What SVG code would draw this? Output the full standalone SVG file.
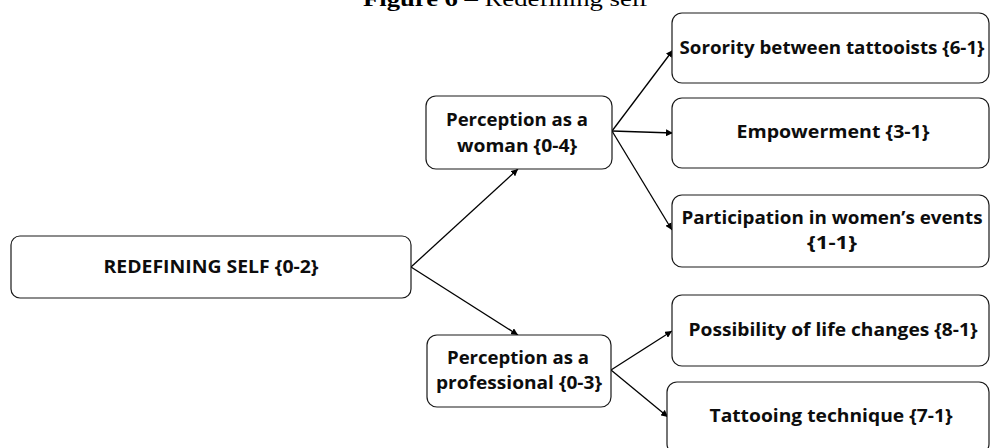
<svg xmlns="http://www.w3.org/2000/svg" width="990" height="448" viewBox="0 0 990 448">
<defs>
<style>
.box{fill:#fff;stroke:#1a1a1a;stroke-width:1.2}
.lbl{font-family:"Open Sans","Liberation Sans",sans-serif;font-weight:bold;font-size:17px;fill:#0d0d0d;text-anchor:middle}
.con{stroke:#000;stroke-width:1.3;fill:none;marker-end:url(#ah)}
.title{font-family:"Liberation Serif","Times New Roman",serif;font-size:20px;fill:#000;text-anchor:middle}
</style>
<marker id="ah" viewBox="0 0 10 10" refX="10" refY="5" markerWidth="7" markerHeight="7" markerUnits="userSpaceOnUse" orient="auto">
<path d="M0,0 L10,5 L0,10 z" fill="#000"/>
</marker>
</defs>
<text class="title" x="505.5" y="6" textLength="285" lengthAdjust="spacingAndGlyphs"><tspan font-weight="bold">Figure 6</tspan> – Redefining self</text>
<g id="connectors">
<line class="con" x1="411" y1="267" x2="518" y2="169"/>
<line class="con" x1="411" y1="267" x2="518" y2="335"/>
<line class="con" x1="612" y1="131" x2="673" y2="50"/>
<line class="con" x1="612" y1="131" x2="673" y2="133"/>
<line class="con" x1="612" y1="131" x2="672" y2="230"/>
<line class="con" x1="611" y1="370" x2="672" y2="331"/>
<line class="con" x1="611" y1="370" x2="668" y2="417"/>
</g>
<g id="root">
<rect class="box" x="11" y="236" width="400" height="62" rx="9"/>
<text class="lbl" x="211" y="273" textLength="215" lengthAdjust="spacingAndGlyphs">REDEFINING SELF {0-2}</text>
</g>
<g id="woman">
<rect class="box" x="426" y="96" width="186" height="73" rx="10"/>
<text class="lbl" x="517" y="126" textLength="142" lengthAdjust="spacingAndGlyphs">Perception as a</text>
<text class="lbl" x="517" y="152" textLength="120" lengthAdjust="spacingAndGlyphs">woman {0-4}</text>
</g>
<g id="professional">
<rect class="box" x="427" y="335" width="184" height="72" rx="10"/>
<text class="lbl" x="518" y="364" textLength="142" lengthAdjust="spacingAndGlyphs">Perception as a</text>
<text class="lbl" x="519" y="389" textLength="166" lengthAdjust="spacingAndGlyphs">professional {0-3}</text>
</g>
<g id="sorority">
<rect class="box" x="672" y="13" width="317" height="70" rx="10"/>
<text class="lbl" x="832" y="54" textLength="305" lengthAdjust="spacingAndGlyphs">Sorority between tattooists {6-1}</text>
</g>
<g id="empowerment">
<rect class="box" x="672" y="98" width="317" height="70" rx="10"/>
<text class="lbl" x="833" y="138" textLength="193" lengthAdjust="spacingAndGlyphs">Empowerment {3-1}</text>
</g>
<g id="participation">
<rect class="box" x="672" y="195" width="317" height="72" rx="10"/>
<text class="lbl" x="832" y="224" textLength="301" lengthAdjust="spacingAndGlyphs">Participation in women’s events</text>
<text class="lbl" x="832" y="249" textLength="50" lengthAdjust="spacingAndGlyphs">{1-1}</text>
</g>
<g id="possibility">
<rect class="box" x="672" y="295" width="317" height="71" rx="10"/>
<text class="lbl" x="833" y="336" textLength="289" lengthAdjust="spacingAndGlyphs">Possibility of life changes {8-1}</text>
</g>
<g id="tattooing">
<rect class="box" x="667" y="382" width="322" height="72" rx="10"/>
<text class="lbl" x="831" y="422" textLength="243" lengthAdjust="spacingAndGlyphs">Tattooing technique {7-1}</text>
</g>
</svg>
